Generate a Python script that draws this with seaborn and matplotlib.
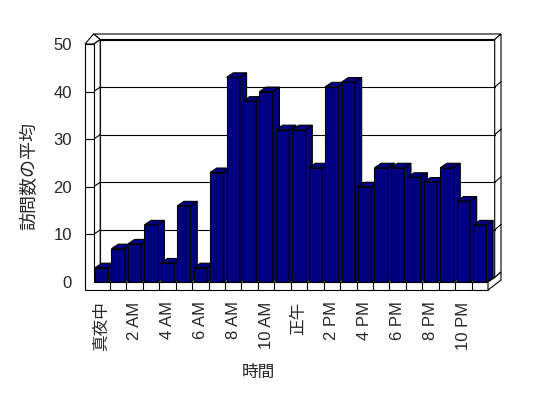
import matplotlib
matplotlib.use("Agg")
import matplotlib.pyplot as plt
import matplotlib.transforms as mtransforms
from matplotlib.patches import Polygon
from matplotlib.lines import Line2D
import seaborn as sns
import pandas as pd

# ---- data ----
hours = ["真夜中", "1 AM", "2 AM", "3 AM", "4 AM", "5 AM", "6 AM", "7 AM",
         "8 AM", "9 AM", "10 AM", "11 AM", "正午", "1 PM", "2 PM", "3 PM",
         "4 PM", "5 PM", "6 PM", "7 PM", "8 PM", "9 PM", "10 PM", "11 PM"]
visits = [3, 7, 8, 12, 4, 16, 3, 23, 43, 38, 40, 32,
          32, 24, 41, 42, 20, 24, 24, 22, 21, 24, 17, 12]
y_ticks = [0, 10, 20, 30, 40, 50]
x_title = "時間"
y_title = "訪問数の平均"

sns.set_style("white")
plt.rcParams["font.family"] = ["Liberation Sans", "Noto Sans CJK JP", "DejaVu Sans"]

W_PX, H_PX = 548, 398
fig = plt.figure(figsize=(W_PX / 100, H_PX / 100), dpi=100)
ax = fig.add_axes([93.5 / W_PX, (H_PX - 282) / H_PX,
                   (488 - 93.5) / W_PX, (282 - 44) / H_PX])

df = pd.DataFrame({"hour": hours, "visits": visits})
NAVY = "#000080"
sns.barplot(data=df, x="hour", y="visits", order=hours, color=NAVY,
            saturation=1, width=0.81, edgecolor="black", linewidth=0.8,
            ax=ax, zorder=5)

ax.set_xlim(-0.5, len(hours) - 0.5)
ax.set_ylim(0, 50)
for s in ax.spines.values():
    s.set_visible(False)
ax.set_facecolor("none")
ax.set_xlabel("")
ax.set_ylabel("")

ax.set_yticks(y_ticks)
ax.set_yticklabels([str(v) for v in y_ticks], fontsize=12)
ax.tick_params(axis="y", length=0, pad=15.5)
even = list(range(0, len(hours), 2))
ax.set_xticks(even)
ax.set_xticklabels([hours[i] for i in even], rotation=90, fontsize=12)
ax.tick_params(axis="x", length=0, pad=14)

fig.text(30 / W_PX, 1 - 176 / H_PX, y_title, rotation=90, fontsize=13,
         ha="center", va="center")
fig.text(258 / W_PX, 1 - 372 / H_PX, x_title, fontsize=12,
         ha="center", va="center")

# ---- 3D frame (display pixel coords derived from data transform) ----
IDT = mtransforms.IdentityTransform()
OX, OY = 6.7, 4.5      # depth of plot area
TX, TY = 6.3, 5.5      # back wall thickness
WL = 8.5               # left wall thickness
FL = 8.0               # floor thickness
x0, x1 = -0.5, len(hours) - 0.5
ymax = 50


def D(x, y):
    return ax.transData.transform((x, y))


def add_poly(pts, z, fc="white", lw=0.8):
    ax.add_patch(Polygon(pts, closed=True, transform=IDT, facecolor=fc,
                         edgecolor="black", linewidth=lw, zorder=z,
                         clip_on=False, joinstyle="miter"))


def add_line(p, q, z, lw=0.8):
    ax.add_line(Line2D([p[0], q[0]], [p[1], q[1]], transform=IDT,
                       color="black", linewidth=lw, zorder=z, clip_on=False))


bl = D(x0, 0)
br = D(x1, 0)
tl = D(x0, ymax)
tr = D(x1, ymax)

def o(p, k=1.0):
    return (p[0] + OX * k, p[1] + OY * k)

def ot(p):
    return (p[0] + OX + TX, p[1] + OY + TY)

# back wall inner face
add_poly([o(bl), o(br), o(tr), o(tl)], 1)
# back wall top face
add_poly([(tl[0], ot(tl)[1]), ot(tr), o(tr), o(tl)], 1)
# back wall right face
add_poly([o(tr), ot(tr), ot(br), o(br)], 1)
# left wall inner face
add_poly([bl, tl, o(tl), o(bl)], 1.2)
# left wall top
add_poly([(tl[0] - WL, tl[1]), (tl[0], ot(tl)[1]), o(tl), tl], 1.2)

# gridlines
for v in y_ticks[1:-1]:
    pl = D(x0, v)
    pr = D(x1, v)
    add_line(o(pl), o(pr), 1.5)
    add_line(pl, o(pl), 1.5)
    add_line(o(pr), ot(pr), 1.5)

# floor top face
add_poly([bl, br, o(br), o(bl)], 2)

# left wall front + floor front (L-shape)
add_poly([(tl[0] - WL, tl[1]), tl, bl, br, (br[0], br[1] - FL),
          (bl[0] - WL, bl[1] - FL)], 8)
# floor right face
add_poly([br, (br[0], br[1] - FL), (br[0] + OX + TX, br[1] - FL + OY + TY),
          ot(br), o(br)], 8)
# left wall front ticks
for v in y_ticks[1:-1]:
    p = D(x0, v)
    add_line((p[0] - WL, p[1]), p, 9)
# floor dividers
for k in range(1, len(hours)):
    p = D(k - 0.5, 0)
    add_line(p, (p[0], p[1] - FL), 9)

# ---- 3D bar faces derived from seaborn bars ----
for i, bar in enumerate(ax.patches[:len(hours)]):
    z = 5 + i * 0.01
    bar.set_zorder(z)
    bx, bw, bh = bar.get_x(), bar.get_width(), bar.get_height()
    a = D(bx, bh)
    b = D(bx + bw, bh)
    c = D(bx + bw, 0)
    add_poly([b, c, o(c), o(b)], z, fc=NAVY)
    add_poly([a, b, o(b), o(a)], z, fc=NAVY)

fig.savefig("out.png", dpi=100, facecolor="white")
